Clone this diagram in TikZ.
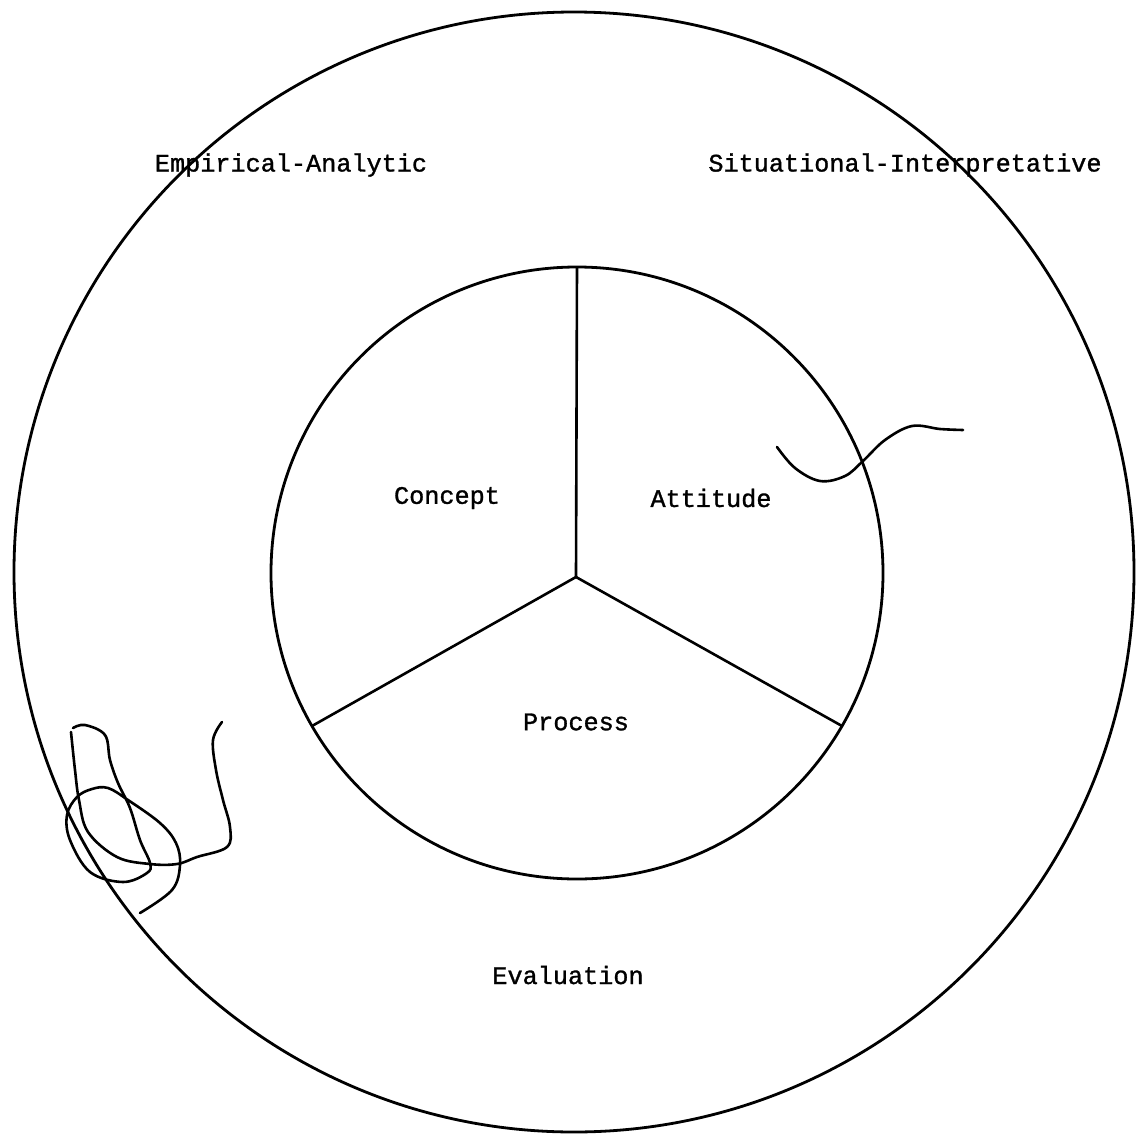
\documentclass[tikz,border=0pt]{standalone}
\usepackage{fontspec}
\newfontfamily\typew[FakeBold=1.2]{Liberation Mono}
\begin{document}
\begin{tikzpicture}[x=0.5pt,y=-0.5pt,
  ring/.style={circle,draw=black,line width=1.4pt,inner sep=0pt,outer sep=0pt},
  divider/.style={draw=black,line width=1.3pt},
  lbl/.style={font=\typew\fontsize{12.6}{14}\selectfont,text=black,inner sep=0pt},
  scrib/.style={draw=black,line width=1.3pt,line cap=round,line join=round}]
\useasboundingbox (0,0) rectangle (1137,1136);
\node[ring,minimum size=560pt] (outer) at (574,572) {};
\node[ring,minimum size=306pt] (inner) at (577,573) {};
\coordinate (c) at (576,577);
\draw[divider] (c) -- (inner.90);
\draw[divider] (c) -- (inner.210);
\draw[divider] (c) -- (inner.-30);
\node[lbl] (ea) at (291,165) {Empirical-Analytic};
\node[lbl] (si) at (905,165) {Situational-Interpretative};
\node[lbl] (concept) at (447,498) {Concept};
\node[lbl] (attitude) at (711,498) {Attitude};
\node[lbl] (process) at (576,722) {Process};
\node[lbl] (evaluation) at (568,975) {Evaluation};
% handwritten scribbles
\draw[scrib] plot[smooth,tension=0.6] coordinates {(777,447) (795,468) (820,481) (845,476) (863,461) (885,440) (912,426) (940,429) (963,430)};
\draw[scrib] plot[smooth,tension=0.6] coordinates {(73,728) (85,725) (105,735) (110,760) (118,783) (130,808) (140,840) (150,863) (147,873) (123,882) (90,872) (70,840) (67,815) (77,797) (92,789) (108,788) (128,800) (160,823) (176,843) (180,865) (172,890) (140,913)};
\draw[scrib] plot[smooth,tension=0.6] coordinates {(71,732) (75,770) (79,800) (88,832) (117,857) (150,864) (177,864) (197,857) (227,847) (230,827) (223,800) (216,770) (213,740) (222,722)};
\end{tikzpicture}
\end{document}
